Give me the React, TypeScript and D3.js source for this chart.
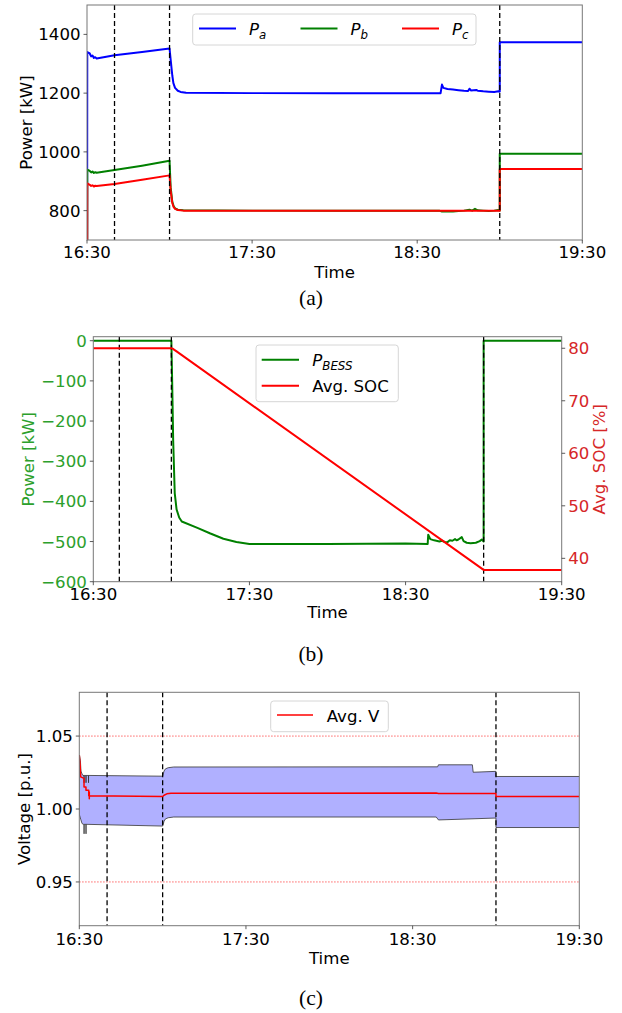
import React from 'react';
import * as d3 from 'd3';

type Pt = [number, number];

// time in minutes after 16:30
const TIME_TICKS = [0, 60, 120, 180];
const TIME_LABELS = ['16:30', '17:30', '18:30', '19:30'];
const EVENT_TIMES = [10, 30, 150];

// Panel (a) phase powers [kW]
const PA: Pt[] = [[0, 0], [0.1, 1340], [1, 1335], [1.5, 1325], [2, 1328], [2.5, 1320], [3, 1322], [3.5, 1318], [10, 1329], [20, 1340], [30, 1352], [30.4, 1314], [31, 1260], [31.4, 1234], [32, 1218], [33, 1208], [34, 1204], [36, 1201], [60, 1200], [90, 1200], [128.5, 1200], [129, 1229], [129.5, 1218], [131, 1214], [133, 1212], [135, 1210], [137, 1208], [138.5, 1207], [139, 1215], [139.5, 1209], [140.5, 1210], [141.5, 1211], [142, 1208], [144, 1206], [146, 1205], [148, 1204], [149.5, 1206], [150, 1205], [150, 1373], [180, 1373]];
const PB: Pt[] = [[0, 0], [0.1, 940], [1, 935], [1.5, 930], [2, 933], [2.5, 928], [3, 931], [3.5, 929], [10, 938], [20, 953], [30, 970], [30.4, 880], [31, 830], [31.5, 815], [32, 808], [33, 803], [35, 801], [60, 800], [90, 800], [128, 800], [129, 797], [131, 798], [133, 797], [135, 799], [137, 800], [139, 803], [140, 800], [141, 806], [142, 801], [144, 800], [146, 799], [148, 800], [149.5, 802], [150, 800], [150, 994], [180, 994]];
const PC: Pt[] = [[0, 0], [0.1, 893], [1, 888], [1.5, 884], [2, 886], [2.5, 882], [3, 885], [3.5, 884], [10, 891], [20, 905], [30, 920], [30.4, 868], [31, 826], [31.5, 812], [32, 806], [33, 802], [35, 800], [150, 800], [150, 942], [180, 942]];
const A_TICKS = [800, 1000, 1200, 1400];

// Panel (b) BESS power [kW] and average SOC [%]
const PBESS: Pt[] = [[0, 0], [30, 0], [30.3, -100], [30.7, -250], [31.3, -380], [32, -420], [33, -440], [34, -450], [40, -466], [45, -480], [50, -493], [55, -501], [60, -506], [90, -506], [120, -505], [128.5, -506], [128.7, -483], [129.5, -494], [131, -497], [133, -500], [134, -498], [135, -501], [136, -502], [137, -497], [138, -498], [139, -494], [139.6, -497], [140.3, -495], [141.6, -489], [142.3, -499], [143.5, -503], [145, -504], [147, -503], [148.5, -499], [149.3, -495], [150, -500], [150, 0], [180, 0]];
const SOC: Pt[] = [[0, 80], [30, 80], [30.5, 79.93], [31, 79.75], [32, 79.4], [150, 37.8], [180, 37.8]];
const B_TICKS = [0, -100, -200, -300, -400, -500, -600];
const B2_TICKS = [40, 50, 60, 70, 80];

// Panel (c) voltage band [p.u.]
const VMAX: Pt[] = [[0, 1.0], [0.05, 1.037], [0.4, 1.033], [0.6, 1.026], [1.0, 1.024], [1.3, 1.023], [1.7, 1.023], [1.72, 1.018], [1.74, 1.023], [2.4, 1.023], [2.42, 1.018], [2.44, 1.023], [3.3, 1.023], [3.32, 1.018], [3.34, 1.023], [30, 1.0225], [30.5, 1.026], [31, 1.0275], [32, 1.0283], [34, 1.0288], [129, 1.0289], [129.3, 1.0303], [141.5, 1.0303], [141.8, 1.0252], [150, 1.0258], [150, 1.0223], [180, 1.0223]];
const VMIN: Pt[] = [[0, 1.0], [0.05, 0.996], [0.5, 0.993], [1, 0.990], [1.5, 0.9895], [1.7, 0.9895], [1.72, 0.983], [1.74, 0.9895], [2.4, 0.9895], [2.42, 0.983], [2.44, 0.9895], [30, 0.9883], [30.5, 0.9915], [31, 0.9932], [32, 0.994], [34, 0.9945], [128.5, 0.9945], [129.3, 0.9925], [150, 0.9938], [150, 0.9873], [180, 0.9873]];
const VAVG: Pt[] = [[0, 1.037], [0.3, 1.03], [0.5, 1.022], [1.7, 1.021], [1.7, 1.015], [2.4, 1.015], [2.4, 1.0128], [3.4, 1.0128], [3.4, 1.009], [3.6, 1.009], [3.6, 1.0117], [3.6, 1.007], [3.6, 1.009], [30, 1.0086], [30.5, 1.0094], [31.5, 1.0104], [33, 1.0108], [128.5, 1.011], [129.3, 1.0106], [150, 1.0107], [150, 1.0085], [180, 1.0085]];
const V_LIMITS = [0.95, 1.05];
const C_TICKS = [0.95, 1.0, 1.05];
const C_LABELS = ['0.95', '1.00', '1.05'];

const FONT = '"DejaVu Sans", sans-serif';
const SERIF = '"Liberation Serif", "DejaVu Serif", serif';
const FS = 16.6;
const SPINE = '#777';
const TAB_GREEN = '#2ca02c';
const TAB_RED = '#d62728';

function mkLine(x: d3.ScaleLinear<number, number>, y: d3.ScaleLinear<number, number>) {
  return d3.line<Pt>().x(d => x(d[0])).y(d => y(d[1]));
}

function fmtMinus(v: number) {
  return String(v).replace('-', '\u2212');
}

function XAxis({ x, yb, baseline, labelBaseline }: { x: d3.ScaleLinear<number, number>; yb: number; baseline: number; labelBaseline: number }) {
  const [r0, r1] = x.range();
  return (
    <g>
      {TIME_TICKS.map((t, i) => (
        <g key={i}>
          <line x1={x(t)} x2={x(t)} y1={yb} y2={yb + 3.5} stroke="#333" strokeWidth={0.8} />
          <text x={x(t)} y={baseline} textAnchor="middle" fontSize={FS} fill="#000">{TIME_LABELS[i]}</text>
        </g>
      ))}
      <text x={(r0 + r1) / 2} y={labelBaseline} textAnchor="middle" fontSize={FS} fill="#000">Time</text>
    </g>
  );
}

function YTicks({ y, ticks, labels, xEdge, side, color }: { y: d3.ScaleLinear<number, number>; ticks: number[]; labels: string[]; xEdge: number; side: 'left' | 'right'; color: string }) {
  const dir = side === 'left' ? -1 : 1;
  return (
    <g>
      {ticks.map((t, i) => (
        <g key={i}>
          <line x1={xEdge} x2={xEdge + dir * 3.5} y1={y(t)} y2={y(t)} stroke="#333" strokeWidth={0.8} />
          <text x={xEdge + dir * 6.5} y={y(t)} dy="0.36em" textAnchor={side === 'left' ? 'end' : 'start'} fontSize={FS} fill={color}>{labels[i]}</text>
        </g>
      ))}
    </g>
  );
}

function Frame({ x0, x1, y0, y1 }: { x0: number; x1: number; y0: number; y1: number }) {
  return <rect x={x0} y={y0} width={x1 - x0} height={y1 - y0} fill="none" stroke={SPINE} strokeWidth={1} />;
}

function EventLines({ x, y0, y1 }: { x: d3.ScaleLinear<number, number>; y0: number; y1: number }) {
  return (
    <g>
      {EVENT_TIMES.map((t, i) => (
        <line key={i} x1={x(t)} x2={x(t)} y1={y0} y2={y1} stroke="#000" strokeWidth={1.3} strokeDasharray="5,3" />
      ))}
    </g>
  );
}

export default function App() {
  // Panel (a)
  const aL = 87, aR = 582.3, aT = 5, aB = 240;
  const xA = d3.scaleLinear().domain([0, 180]).range([aL, aR]);
  const yA = d3.scaleLinear().domain([700, 1500]).range([aB, aT]);
  const lA = mkLine(xA, yA);

  // Panel (b)
  const bL = 93.3, bR = 561.7, bT = 336.7, bB = 581.7;
  const xB = d3.scaleLinear().domain([0, 180]).range([bL, bR]);
  const yB = d3.scaleLinear().domain([-600, 10]).range([bB, bT]);
  const yB2 = d3.scaleLinear().domain([35.55, 82.2]).range([bB, bT]);
  const lB = mkLine(xB, yB);
  const lB2 = mkLine(xB, yB2);

  // Panel (c)
  const cL = 79.3, cR = 579.3, cT = 692.3, cB = 925.7;
  const xC = d3.scaleLinear().domain([0, 180]).range([cL, cR]);
  const yC = d3.scaleLinear().domain([0.92, 1.08]).range([cB, cT]);
  const lC = mkLine(xC, yC);
  const band = lC(VMAX.concat(VMIN.slice().reverse())) + 'Z';

  return (
    <svg width={622} height={1013} style={{ position: 'absolute', left: 0, top: 0, display: 'block', background: '#fff' }} fontFamily={FONT}>
      <defs>
        <clipPath id="clipA"><rect x={aL} y={aT} width={aR - aL} height={aB - aT} /></clipPath>
        <clipPath id="clipB"><rect x={bL} y={bT} width={bR - bL} height={bB - bT} /></clipPath>
        <clipPath id="clipC"><rect x={cL} y={cT} width={cR - cL} height={cB - cT} /></clipPath>
      </defs>
      <rect x={0} y={0} width={622} height={1013} fill="#fff" />

      {/* ===== Panel (a) ===== */}
      <g clipPath="url(#clipA)">
        <path d={lA(PA) || ''} fill="none" stroke="#0000ff" strokeWidth={2} strokeLinejoin="round" />
        <path d={lA(PB) || ''} fill="none" stroke="#008000" strokeWidth={2} strokeLinejoin="round" />
        <path d={lA(PC) || ''} fill="none" stroke="#ff0000" strokeWidth={2} strokeLinejoin="round" />
        <EventLines x={xA} y0={aT} y1={aB} />
      </g>
      <Frame x0={aL} x1={aR} y0={aT} y1={aB} />
      <YTicks y={yA} ticks={A_TICKS} labels={A_TICKS.map(String)} xEdge={aL} side="left" color="#000" />
      <XAxis x={xA} yb={aB} baseline={257.5} labelBaseline={278} />
      <text transform={`translate(32,${(aT + aB) / 2}) rotate(-90)`} textAnchor="middle" fontSize={FS} fill="#000">Power [kW]</text>
      {/* legend (a) */}
      <g>
        <rect x={192.7} y={14} width={283.3} height={31} rx={3} fill="#fff" fillOpacity={0.8} stroke="#d6d6d6" strokeWidth={1} />
        {[
          { c: '#0000ff', s: 'a', x: 199 },
          { c: '#008000', s: 'b', x: 300.5 },
          { c: '#ff0000', s: 'c', x: 402 },
        ].map((e, i) => (
          <g key={i}>
            <line x1={e.x} x2={e.x + 37} y1={28.5} y2={28.5} stroke={e.c} strokeWidth={2} />
            <text x={e.x + 50} y={35} fontSize={FS} fontStyle="italic" fill="#000">P<tspan dy={3.5} fontSize={11.8}>{e.s}</tspan></text>
          </g>
        ))}
      </g>
      <text x={311} y={305} textAnchor="middle" fontSize={21.5} fontFamily={SERIF} fill="#000">(a)</text>

      {/* ===== Panel (b) ===== */}
      <g clipPath="url(#clipB)">
        <path d={lB(PBESS) || ''} fill="none" stroke="#008000" strokeWidth={2} strokeLinejoin="round" />
        <EventLines x={xB} y0={bT} y1={bB} />
        <path d={lB2(SOC) || ''} fill="none" stroke="#ff0000" strokeWidth={2} strokeLinejoin="round" />
      </g>
      <Frame x0={bL} x1={bR} y0={bT} y1={bB} />
      <YTicks y={yB} ticks={B_TICKS} labels={B_TICKS.map(fmtMinus)} xEdge={bL} side="left" color={TAB_GREEN} />
      <YTicks y={yB2} ticks={B2_TICKS} labels={B2_TICKS.map(String)} xEdge={bR} side="right" color={TAB_RED} />
      <XAxis x={xB} yb={bB} baseline={600} labelBaseline={618} />
      <text transform={`translate(34,${(bT + bB) / 2}) rotate(-90)`} textAnchor="middle" fontSize={FS} fill={TAB_GREEN}>Power [kW]</text>
      <text transform={`translate(605,${(bT + bB) / 2}) rotate(-90)`} textAnchor="middle" fontSize={FS} fill={TAB_RED}>Avg. SOC [%]</text>
      {/* legend (b) */}
      <g>
        <rect x={256} y={345} width={142.3} height={56.7} rx={3} fill="#fff" fillOpacity={0.8} stroke="#d6d6d6" strokeWidth={1} />
        <line x1={261.7} x2={299} y1={359.8} y2={359.8} stroke="#008000" strokeWidth={2} />
        <text x={312.3} y={366} fontSize={FS} fontStyle="italic" fill="#000">P<tspan dy={3.5} fontSize={11.8}>BESS</tspan></text>
        <line x1={261.7} x2={299} y1={385.7} y2={385.7} stroke="#ff0000" strokeWidth={2} />
        <text x={312.3} y={391.5} fontSize={FS} fill="#000">Avg. SOC</text>
      </g>
      <text x={311} y={661} textAnchor="middle" fontSize={21.5} fontFamily={SERIF} fill="#000">(b)</text>

      {/* ===== Panel (c) ===== */}
      <g clipPath="url(#clipC)">
        <path d={band} fill="#b0b0ff" stroke="none" />
        <path d={lC(VMAX) || ''} fill="none" stroke="#333" strokeWidth={0.8} />
        <path d={lC(VMIN) || ''} fill="none" stroke="#333" strokeWidth={0.8} />
        {V_LIMITS.map((v, i) => (
          <line key={i} x1={cL} x2={cR} y1={yC(v)} y2={yC(v)} stroke="#ff0000" strokeOpacity={0.75} strokeWidth={1} strokeDasharray="1.2,1.8" />
        ))}
        <EventLines x={xC} y0={cT} y1={cB} />
        <path d={lC(VAVG) || ''} fill="none" stroke="#ff0000" strokeWidth={1.5} strokeLinejoin="round" />
      </g>
      <Frame x0={cL} x1={cR} y0={cT} y1={cB} />
      <YTicks y={yC} ticks={C_TICKS} labels={C_LABELS} xEdge={cL} side="left" color="#000" />
      <XAxis x={xC} yb={cB} baseline={944.5} labelBaseline={964} />
      <text transform={`translate(30,${(cT + cB) / 2}) rotate(-90)`} textAnchor="middle" fontSize={FS} fill="#000">Voltage [p.u.]</text>
      {/* legend (c) */}
      <g>
        <rect x={270.7} y={701} width={117.6} height={30.7} rx={3} fill="#fff" fillOpacity={0.8} stroke="#d6d6d6" strokeWidth={1} />
        <line x1={277} x2={313} y1={715} y2={715} stroke="#ff0000" strokeWidth={1.5} />
        <text x={326.7} y={721.5} fontSize={FS} fill="#000">Avg. V</text>
      </g>
      <text x={311} y={1005} textAnchor="middle" fontSize={21.5} fontFamily={SERIF} fill="#000">(c)</text>
    </svg>
  );
}
